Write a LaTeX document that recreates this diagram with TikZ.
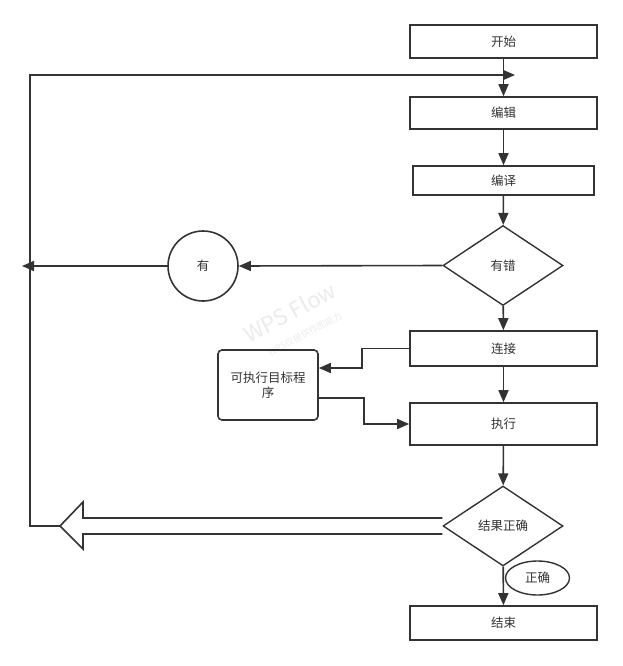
\documentclass[tikz,border=0pt]{standalone}
\usepackage{fontspec}
\setmainfont{Noto Sans CJK SC}
\usetikzlibrary{arrows.meta,shapes.geometric}
\definecolor{ln}{HTML}{333333}
\definecolor{wm}{HTML}{EBEBEB}
\begin{document}
\begin{tikzpicture}[x=1pt,y=-1pt,
  every node/.style={text=ln,font=\fontsize{12.5}{15}\selectfont},
  box/.style={draw=ln,line width=1.6pt,fill=white,minimum width=187pt,minimum height=33pt,inner sep=1pt},
  dia/.style={draw=ln,line width=1.4pt,diamond,minimum width=120pt,minimum height=80pt,inner sep=0pt,aspect=1.5},
  arr/.style={draw=ln,line width=1.6pt,-{Triangle[length=12pt,width=10pt]}},
  ln/.style={draw=ln,line width=1.6pt}]
\useasboundingbox (0,0) rectangle (622,666);
% watermark
\node[text=wm,font=\fontsize{22}{24}\selectfont,rotate=28] (wm1) at (290,312) {WPS Flow};
\node[text=wm,font=\fontsize{9}{11}\selectfont,rotate=28] (wm2) at (305,334) {WPS仅提供作图能力};

\node[box] (start) at (503.5,41.5) {开始};
\node[box,minimum height=32pt] (edit) at (503.5,113) {编辑};
\node[box,minimum width=181pt,minimum height=29pt] (comp) at (503.5,180.5) {编译};
\node[dia] (err) at (503,265.5) {有错};
\node[draw=ln,line width=1.6pt,circle,minimum size=70pt,inner sep=0pt] (you) at (203,266) {有};
\node[box,minimum height=35pt] (link) at (503.5,348.5) {连接};
\node[draw=ln,line width=1.6pt,rounded corners=4pt,minimum width=100pt,minimum height=70pt,align=center,inner sep=1pt] (exe) at (268,385) {可执行目标程\\序};
\node[box,minimum height=42pt] (run) at (503.5,424) {执行};
\node[dia] (ok) at (503,526) {结果正确};
\node[box,minimum height=34pt] (end) at (503.5,623) {结束};

\coordinate (lend) at (22,266);
\coordinate (tip) at (60,526);
\coordinate (loopend) at (515,75);

\draw[arr] (start) -- (edit);
\draw[arr] (edit) -- (comp);
\draw[arr] (comp) -- (err);
\draw[arr] (err.west) -- (you.east);
\draw[arr] (you.west) -- (lend);
\draw[arr] (err) -- (link);
\draw[arr] (link.west) -- ++(-47,0) |- ([yshift=17pt]exe.east);
\draw[arr] ([yshift=-13pt]exe.east) -- ++(45,0) |- (run.west);
\draw[arr] (link) -- (run);
\draw[arr] (run) -- (ok);
\draw[arr] (ok) -- (end);
\draw[arr] (tip) -- (30,526) |- (loopend);
% hollow block arrow
\draw[ln,fill=white,line join=miter] ([yshift=8pt]ok.west) -- (83,518) -- (83,502) -- (tip) -- (83,549) -- (83,534) -- ([yshift=-8pt]ok.west);
\node[draw=ln,line width=1.4pt,ellipse,fill=white,minimum width=64pt,minimum height=34pt,inner sep=0pt] (zq) at (537.5,578) {正确};
\end{tikzpicture}
\end{document}
